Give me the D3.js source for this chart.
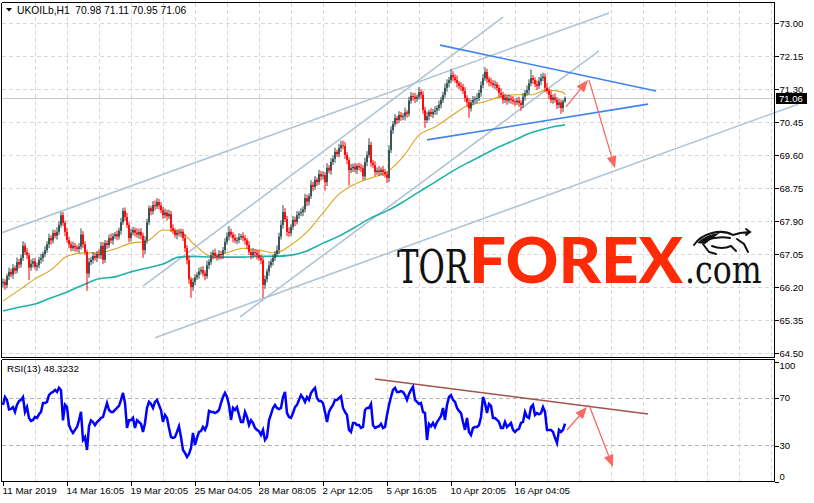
<!DOCTYPE html>
<html>
<head>
<meta charset="utf-8">
<script src="https://cdn.jsdelivr.net/npm/d3@7"></script>
<style>
  body { margin: 0; background: #fff; }
  svg { display: block; }
  text { font-family: "Liberation Sans", Arial, sans-serif; }
</style>
</head>
<body>
<div id="chart"></div>
<script>
// UKOILb H1 bars, one per hour (close prices)
const firstOpen = 66.30;
const closes = [
  66.33,66.25,66.48,66.59,66.52,66.69,66.62,66.84,66.78,66.95,
  67.26,67.10,67.02,66.70,66.80,66.86,66.72,66.76,66.90,66.95,
  67.05,67.15,67.30,67.46,67.40,67.59,67.52,67.62,67.80,68.05,
  67.85,67.62,67.41,67.30,67.20,67.26,67.22,67.18,67.24,67.55,
  67.30,67.10,66.55,66.84,66.90,67.00,66.95,67.05,67.02,67.26,
  66.90,67.33,67.28,67.46,67.40,67.51,67.56,67.50,67.65,67.87,
  68.16,68.00,67.80,67.46,67.60,67.67,67.60,67.55,67.62,67.52,
  67.15,67.40,67.87,68.23,68.15,68.31,68.28,68.39,68.30,68.18,
  68.05,68.12,68.02,68.08,67.72,67.65,67.54,67.60,67.58,67.62,
  67.46,67.20,66.89,66.40,66.20,66.33,66.45,66.51,66.60,66.64,
  66.55,66.48,66.76,66.85,67.02,67.08,67.00,66.98,67.05,67.02,
  67.15,67.36,67.50,67.62,67.55,67.46,67.40,67.41,67.48,67.51,
  67.46,67.40,67.28,67.10,67.02,67.10,67.08,67.02,66.95,66.89,
  66.25,66.40,66.60,66.76,66.85,66.95,67.05,67.15,67.50,67.80,
  68.13,67.95,67.62,67.59,67.75,67.93,67.88,68.05,68.10,68.13,
  68.20,68.49,68.40,68.54,68.83,68.78,68.96,68.90,69.11,69.05,
  69.08,68.90,69.27,69.20,69.42,69.50,69.68,69.62,69.78,69.85,
  69.83,69.60,69.47,69.21,69.26,69.30,69.22,69.32,69.28,69.26,
  69.05,69.42,69.60,69.86,69.40,69.34,69.16,69.20,69.16,69.22,
  69.16,69.10,69.01,69.73,70.24,70.40,70.55,70.50,70.63,70.58,
  70.60,70.70,70.66,71.00,71.12,71.10,71.05,71.10,71.22,71.15,
  70.76,70.50,70.60,70.71,70.65,70.71,70.75,70.81,70.90,71.02,
  71.15,71.33,71.45,71.53,71.66,71.60,71.53,71.45,71.38,71.35,
  71.25,71.07,70.96,70.80,70.95,71.02,71.05,71.07,71.20,71.40,
  71.58,71.74,71.55,71.48,71.45,71.40,71.42,71.33,71.20,71.15,
  71.02,71.08,71.00,71.05,71.02,70.98,70.96,71.00,70.94,70.89,
  71.10,71.20,71.27,71.45,71.58,71.53,71.42,71.38,71.50,71.58,
  71.62,71.33,71.25,71.15,71.02,71.08,71.02,70.89,70.95,70.81,
  70.98,71.06
];
// wick lengths in cents above the body / below the body
const wickUp = [
  9,7,6,11,8,10,6,12,8,9, 12,8,10,6,11,8,9,7,8,11, 6,10,8,11,7,9,8,12,9,8,
  8,6,10,8,7,11,8,6,9,16, 9,8,6,11,8,10,7,8,12,10, 10,8,7,9,12,8,6,10,8,11,
  8,9,11,7,10,8,6,12,8,10, 8,11,9,7,6,10,12,10,8,9, 8,10,7,11,8,9,6,8,10,8,
  7,10,8,12,6,10,8,7,10,8, 10,8,12,7,9,8,11,6,10,8, 8,10,11,15,8,7,10,8,11,6,
  10,8,6,11,8,10,7,8,12,9, 8,10,7,11,8,9,8,12,10,12, 18,10,8,12,7,10,8,11,6,10,
  8,11,9,7,12,8,10,6,11,8, 10,8,12,7,10,8,11,6,10,12, 12,10,8,7,11,8,10,6,8,10,
  8,11,10,17,8,7,10,8,12,6, 10,8,7,12,10,8,11,6,10,8, 8,12,6,10,10,8,10,6,13,8,
  10,8,12,6,10,8,11,7,10,8, 8,11,10,8,15,10,8,12,6,10, 8,10,7,11,8,10,6,12,8,10,
  10,12,8,7,11,8,10,6,8,12, 8,10,7,11,8,10,6,8,10,7, 10,8,12,10,22,8,7,10,11,11,
  10,8,12,6,10,8,11,7,10,8, 5,5
];
const wickDown = [
  11,12,8,10,7,11,8,7,10,8, 8,7,10,32,8,10,7,11,8,10, 10,8,7,10,11,8,7,10,8,7,
  8,11,7,10,8,7,11,8,10,8, 10,8,45,11,8,10,7,11,8,10, 11,8,10,7,8,11,7,10,8,10,
  7,10,8,11,8,7,10,8,11,10, 20,10,8,7,10,8,11,7,10,8, 10,8,11,7,10,8,7,11,8,10,
  8,10,11,12,28,10,8,7,10,8, 8,11,7,10,8,11,7,10,8,11, 10,8,7,10,8,11,7,10,8,7,
  8,11,10,7,11,8,10,11,8,10, 33,10,8,11,7,10,8,7,10,8, 10,8,11,10,7,8,11,7,10,8,
  10,8,12,10,7,11,8,10,7,11, 8,22,10,7,11,8,10,7,8,10, 8,10,11,40,8,10,7,11,8,10,
  10,8,11,7,10,8,11,7,10,8, 10,8,13,11,8,10,7,11,8,10, 8,11,10,7,8,10,11,8,7,10,
  10,20,8,11,7,10,8,11,7,10, 8,7,10,11,8,10,7,11,8,10, 8,10,11,24,8,7,10,11,8,10,
  8,7,10,11,8,7,10,8,11,8, 10,8,11,7,10,8,11,7,10,15, 8,10,7,11,8,10,7,11,8,10,
  8,10,7,11,8,10,7,11,8,15, 10,3
];

// moving averages read every 8 bars (last point = last bar)
const maFast = [65.84,66.12,66.41,66.64,66.99,67.08,67.08,67.18,67.33,67.38,67.67,67.64,
  67.28,66.99,67.08,67.20,67.15,67.08,67.28,67.62,68.11,68.59,68.85,69.01,69.16,69.55,
  70.11,70.32,70.60,70.86,70.96,71.09,71.15,71.15,71.27,71.22,71.15];
const maSlow = [65.58,65.68,65.76,65.92,66.07,66.25,66.41,66.46,66.59,66.69,66.79,66.97,
  66.99,66.97,66.97,66.97,66.99,66.99,67.02,67.13,67.33,67.51,67.74,67.98,68.16,68.39,
  68.65,68.90,69.16,69.39,69.60,69.81,69.99,70.17,70.29,70.37,70.38];
const maBars = d3.range(0, 281, 8).concat([281]);

const rsiValues = [
  63.8,70.4,67.9,60,60.5,62,58,64,67,68, 70.4,58,62,53,50.5,51.3,53.8,53,56,58,
  65.4,65.4,66.3,72,73.8,74.6,76.3,74.6,78,76, 51,64,62,47,43,40.4,43,45.4,51,58,
  34.6,37,26.3,46,51,49.6,47,49.6,51,53, 53.8,59.6,65.4,59.6,58,58,59.6,61.3,63,68,
  73.8,65.4,44.6,51,51,53,44.6,51,49.6,48, 41.3,48.8,61.3,66.3,64.6,61.3,66.3,67.9,63.8,59.6,
  49.6,55.4,52.9,44.6,37,36.3,37,41.3,46,37, 26.3,23.8,20.4,22.9,28,40.4,30.4,36.3,41.3,42,
  45.4,43,47,58.8,58,58,57,58,59.6,65.4, 70.4,73.8,70.4,63.8,51.3,61.3,59.6,62,55.4,49.6,
  49.6,58,53.8,47,51,48.8,44.6,43,42,38.8, 43,34.6,37,51,56,61.3,63.8,61.3,60.4,61.3,
  70.4,74.6,57,53.8,53,57,62,63.8,68,72, 69.6,66.3,70.4,68,73.8,76.3,78,69.6,67,67,
  65.4,58,49.6,58,61.3,63.8,68,68,69.6,71, 61.3,58,55.4,43,41.3,48.8,48.8,47,47,44.6,
  45.4,59.6,61.3,61.3,64.6,47,44.6,45.4,46,48, 44.6,45.4,55.4,63.8,70.4,76.3,78,74.6,74.6,75.4,
  74.6,72,68,73,76.3,78.8,68,66.3,64.6,65.4, 58,57,34.6,48,46,48.8,45.4,49.6,52,54.6,
  61.3,51.3,63.8,70.4,72,68,66.3,61.3,58.8,57, 49.6,43,52.9,41.3,38.8,44.6,45.4,45.4,47,53.8,
  70.4,65.4,57,64.6,63,52.9,52.9,51.3,49.6,44.6, 44.6,49.6,45.4,47,48.8,43,41.3,43,43.8,48.8,
  49.6,58,53.8,52.9,62,63.8,55.4,57,56,57, 62,58,43,43,43,41.3,36.3,32.1,43,41.3,
  43,48.3
];

const priceTicks = [64.50, 65.35, 66.20, 67.05, 67.90, 68.75, 69.60, 70.45, 71.30, 72.15, 73.00];
const rsiTicks = [0, 30, 70, 100];
const rsiLevels = [30, 70];
const dateBars = [0, 32, 64, 96, 128, 160, 192, 224, 256];
const dateLabels = ["11 Mar 2019", "14 Mar 16:05", "19 Mar 20:05", "25 Mar 04:05", "28 Mar 08:05",
  "2 Apr 12:05", "5 Apr 16:05", "10 Apr 20:05", "16 Apr 04:05"];
const lastPrice = 71.06;

// drawn objects: [bar1, price1, bar2, price2]
const channelLines = [[-0.5, 67.60, 303, 73.26], [70, 66.22, 250, 73.15], [118.5, 65.43, 298, 72.28], [76, 64.89, 397.5, 70.91]];
const wedgeLines = [[218.5, 72.43, 326.5, 71.25], [212, 69.99, 322.5, 70.91]];
const priceArrows = [[281.5, 70.84, 292.5, 71.53], [293, 71.53, 306, 69.26]];
const rsiLine = [186, 85.4, 322.5, 56.25];
const rsiArrows = [[282, 42.9, 292, 62.1], [293, 63.75, 305, 12.1]];

const width = 814, height = 503;
const axisX = 774.5;
const mainTop = 2.5, mainBottom = 357.5, subTop = 359.5, subBottom = 481.5;

const svg = d3.select("#chart").append("svg")
  .attr("width", width).attr("height", height);
svg.append("rect").attr("width", width).attr("height", height).attr("fill", "#fff");

const x = d3.scaleLinear().domain([0, 386]).range([3, 775]);
const y = d3.scaleLinear().domain([64.5, 73]).range([353, 23]);
const yRsi = d3.scaleLinear().domain([0, 100]).range([481.5, 361.5]);

const defs = svg.append("defs");
defs.append("clipPath").attr("id", "clipMain").append("rect")
  .attr("x", 2).attr("y", mainTop).attr("width", 800).attr("height", mainBottom - mainTop);
defs.append("clipPath").attr("id", "clipSub").append("rect")
  .attr("x", 2).attr("y", subTop).attr("width", axisX - 2).attr("height", subBottom - subTop);

const gridColor = "#d9d9d9";
const gridBars = d3.range(16, 386, 16);

// grid - main
const grid = svg.append("g").attr("stroke", gridColor).attr("stroke-dasharray", "4,3").attr("shape-rendering", "crispEdges");
grid.selectAll("line.h").data(priceTicks).join("line")
  .attr("x1", 2).attr("x2", axisX).attr("y1", d => Math.round(y(d)) + 0.5).attr("y2", d => Math.round(y(d)) + 0.5);
grid.selectAll("line.v").data(gridBars).join("line").attr("class", "v")
  .attr("x1", d => Math.round(x(d)) + 0.5).attr("x2", d => Math.round(x(d)) + 0.5)
  .attr("y1", mainTop).attr("y2", mainBottom);
// grid - rsi
const grid2 = svg.append("g").attr("stroke", gridColor).attr("stroke-dasharray", "4,3").attr("shape-rendering", "crispEdges");
grid2.selectAll("line").data(gridBars).join("line")
  .attr("x1", d => Math.round(x(d)) + 0.5).attr("x2", d => Math.round(x(d)) + 0.5)
  .attr("y1", subTop).attr("y2", subBottom);
svg.append("g").attr("stroke", "#b4b4b4").attr("stroke-dasharray", "4,3").attr("shape-rendering", "crispEdges")
  .selectAll("line").data(rsiLevels).join("line")
  .attr("x1", 2).attr("x2", axisX).attr("y1", d => Math.round(yRsi(d)) + 0.5).attr("y2", d => Math.round(yRsi(d)) + 0.5);

// logo
const logo = svg.append("g");
logo.append("text").text("TOR").attr("transform", "translate(397,283) scale(0.7,1)")
  .style("font-family", "'DejaVu Serif', serif").style("font-size", "46px").attr("fill", "#111");
logo.append("text").text("FOREX").attr("x", 469).attr("y", 283)
  .attr("textLength", 214).attr("lengthAdjust", "spacingAndGlyphs")
  .style("font-family", "Lato, Roboto, sans-serif").style("font-weight", 900).style("font-size", "62px").attr("fill", "#ff2a06");
logo.append("text").text(".com").attr("transform", "translate(685,283) scale(0.79,1)")
  .style("font-family", "'DejaVu Serif', serif").style("font-size", "40px").attr("fill", "#111");
// little bull sketch
logo.append("path")
  .attr("d", "M694,245 Q700,236 712,233 Q724,230 733,235 M733,235 L740,233 L750,232 M746,229 L750,232 L746,235 M703,244 L709,252 L716,254 M712,246 Q722,250 731,246 L736,251 M737,239 L744,244 L748,252 M706,240 Q718,236 730,238")
  .attr("fill", "none").attr("stroke", "#111").attr("stroke-width", 2).attr("stroke-linecap", "round");
logo.append("path").attr("d", "M697,243 Q706,234 720,233 Q712,238 705,244 Z").attr("fill", "#111");

const main = svg.append("g").attr("clip-path", "url(#clipMain)");

// current price line
main.append("line").attr("x1", 2).attr("x2", axisX).attr("y1", Math.round(y(lastPrice)) + 0.5).attr("y2", Math.round(y(lastPrice)) + 0.5)
  .attr("stroke", "#c8c8c8").attr("shape-rendering", "crispEdges");

// trend lines
const seg = (g, d) => g.append("line").attr("x1", x(d[0])).attr("y1", y(d[1])).attr("x2", x(d[2])).attr("y2", y(d[3]));
channelLines.forEach(d => seg(main, d).attr("stroke", "#afc4d4").attr("stroke-width", 1.6));

// moving averages
const maLine = (vals) => d3.line().x((d, i) => x(maBars[i])).y(d => y(d)).curve(d3.curveMonotoneX)(vals);
main.append("path").attr("d", maLine(maSlow)).attr("fill", "none").attr("stroke", "#20b2aa").attr("stroke-width", 1.6);
main.append("path").attr("d", maLine(maFast)).attr("fill", "none").attr("stroke", "#daa520").attr("stroke-width", 1.1);

// candles
const bars = closes.map((c, i) => {
  const o = i === 0 ? firstOpen : closes[i - 1];
  return {i, o, c, hi: Math.max(o, c) + wickUp[i] / 100, lo: Math.min(o, c) - wickDown[i] / 100};
});
const candles = main.append("g");
candles.selectAll("rect.w").data(bars).join("rect")
  .attr("x", d => x(d.i) - 0.5).attr("width", 1)
  .attr("y", d => y(d.hi)).attr("height", d => y(d.lo) - y(d.hi))
  .attr("fill", d => d.c >= d.o ? "#2f4f4f" : "#ff0000");
candles.selectAll("rect.b").data(bars).join("rect")
  .attr("x", d => x(d.i) - 0.9).attr("width", 1.8)
  .attr("y", d => y(Math.max(d.o, d.c))).attr("height", d => Math.max(1, y(Math.min(d.o, d.c)) - y(Math.max(d.o, d.c))))
  .attr("fill", d => d.c >= d.o ? "#2f4f4f" : "#ff0000");

wedgeLines.forEach(d => seg(main, d).attr("stroke", "#3d83f2").attr("stroke-width", 1.6));

function arrow(g, x1, y1, x2, y2) {
  const a = Math.atan2(y2 - y1, x2 - x1), len = 12, hw = 5;
  const bx = x2 - len * Math.cos(a), by = y2 - len * Math.sin(a);
  g.append("line").attr("x1", x1).attr("y1", y1).attr("x2", bx).attr("y2", by)
    .attr("stroke", "#f86a60").attr("stroke-width", 1.3);
  g.append("polygon").attr("fill", "#f86a60")
    .attr("points", [[x2, y2], [bx + hw * Math.sin(a), by - hw * Math.cos(a)], [bx - hw * Math.sin(a), by + hw * Math.cos(a)]].join(" "));
}
priceArrows.forEach(d => arrow(main, x(d[0]), y(d[1]), x(d[2]), y(d[3])));

// RSI panel
const sub = svg.append("g").attr("clip-path", "url(#clipSub)");
sub.append("line").attr("x1", x(rsiLine[0])).attr("y1", yRsi(rsiLine[1])).attr("x2", x(rsiLine[2])).attr("y2", yRsi(rsiLine[3]))
  .attr("stroke", "#a3514d").attr("stroke-width", 1.5);
sub.append("path").datum(rsiValues)
  .attr("d", d3.line().x((d, i) => x(i)).y(d => yRsi(d)))
  .attr("fill", "none").attr("stroke", "#0000ff").attr("stroke-width", 2.5).attr("stroke-linejoin", "miter");
rsiArrows.forEach(d => arrow(sub, x(d[0]), yRsi(d[1]), x(d[2]), yRsi(d[3])));

// frames
const frame = svg.append("g").attr("stroke", "#000").attr("shape-rendering", "crispEdges");
frame.append("line").attr("x1", 1.5).attr("x2", 1.5).attr("y1", mainTop).attr("y2", mainBottom);
frame.append("line").attr("x1", 1.5).attr("x2", axisX).attr("y1", mainTop).attr("y2", mainTop);
frame.append("line").attr("x1", 1.5).attr("x2", axisX).attr("y1", mainBottom).attr("y2", mainBottom);
frame.append("line").attr("x1", axisX).attr("x2", axisX).attr("y1", mainTop).attr("y2", mainBottom);
frame.append("line").attr("x1", 1.5).attr("x2", 1.5).attr("y1", subTop).attr("y2", subBottom);
frame.append("line").attr("x1", 1.5).attr("x2", axisX).attr("y1", subTop).attr("y2", subTop);
frame.append("line").attr("x1", 1.5).attr("x2", axisX).attr("y1", subBottom).attr("y2", subBottom);
frame.append("line").attr("x1", axisX).attr("x2", axisX).attr("y1", subTop).attr("y2", subBottom);

// axes
const styleAxis = g => {
  g.select(".domain").remove();
  g.selectAll("line").attr("stroke", "#000").attr("shape-rendering", "crispEdges");
  g.selectAll("text").attr("fill", "#000").style("font-size", "9.5px").style("font-family", "'Liberation Sans', Arial, sans-serif");
};
svg.append("g").attr("transform", `translate(${axisX},0)`)
  .call(d3.axisRight(y).tickValues(priceTicks).tickFormat(d3.format(".2f")).tickSize(4).tickPadding(1))
  .call(styleAxis);
const rsiAxis = svg.append("g").attr("transform", `translate(${axisX},0)`)
  .call(d3.axisRight(yRsi).tickValues(rsiTicks).tickFormat(d3.format("d")).tickSize(4).tickPadding(1))
  .call(styleAxis);
rsiAxis.selectAll(".tick text").attr("y", d => d === 100 ? 3.5 : d === 0 ? -5.5 : 0);
const dateAxis = svg.append("g").attr("transform", `translate(0,${subBottom})`)
  .call(d3.axisBottom(x).tickValues(dateBars).tickFormat((d, i) => dateLabels[i]).tickSize(4).tickPadding(2))
  .call(styleAxis);
dateAxis.selectAll(".tick text").attr("text-anchor", "start").attr("x", -1).style("font-size", "9.8px");

// last price tag
const ly = y(lastPrice);
svg.append("rect").attr("x", 776).attr("y", Math.round(ly) - 5).attr("width", 31).attr("height", 11).attr("fill", "#000");
svg.append("text").text(lastPrice.toFixed(2)).attr("x", 779).attr("y", Math.round(ly) + 4)
  .attr("fill", "#fff").style("font-size", "9.5px");

// titles
svg.append("path").attr("d", "M6,8 L12,8 L9,11.5 Z").attr("fill", "#000");
svg.append("text").text("UKOILb,H1  70.98 71.11 70.95 71.06").attr("x", 17).attr("y", 14)
  .attr("fill", "#000").style("font-size", "10.3px").style("white-space", "pre");
svg.append("text").text("RSI(13) 48.3232").attr("x", 7).attr("y", 372)
  .attr("fill", "#000").style("font-size", "9.8px");
</script>
</body>
</html>
